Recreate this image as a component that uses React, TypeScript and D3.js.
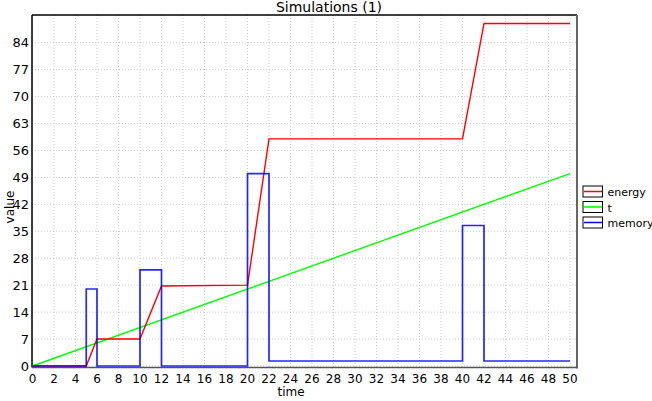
import * as d3 from 'd3';

// series data
const timeSteps = [0, 5, 6, 10, 12, 20, 22, 40, 42, 50];
const energyValues = [0, 0, 7, 7, 20.8, 21, 59, 59, 89, 89];
const tTimes = [0, 50];
const tValues = [0, 50];
const memoryValues = [0, 20, 0, 25, 0, 50, 1.3, 36.5, 1.3, 1.3];

const xTicks = d3.range(0, 51, 2);
const yTicks = d3.range(0, 85, 7);
const legendLabels = ['energy', 't', 'memory'];
const legendColors = ['#ff0000', '#00ff00', '#0000ff'];

export default function App() {
  const width = 652;
  const height = 401;
  const plotLeft = 32;
  const plotRight = 577;
  const plotTop = 15;
  const plotBottom = 367.5;

  // Declare the scales.
  const x = d3.scaleLinear([0, 50], [32.5, 570]);
  const y = d3.scaleLinear([0, 84], [366, 42.7]);

  const line = d3.line<[number, number]>()
    .x(d => x(d[0]))
    .y(d => y(d[1]));
  const stepLine = d3.line<[number, number]>()
    .x(d => x(d[0]))
    .y(d => y(d[1]))
    .curve(d3.curveStepAfter);

  const energy = timeSteps.map((t, i) => [t, energyValues[i]] as [number, number]);
  const tSeries = tTimes.map((t, i) => [t, tValues[i]] as [number, number]);
  const memory = timeSteps.map((t, i) => [t, memoryValues[i]] as [number, number]);

  const font = 'Verdana, "DejaVu Sans", sans-serif';

  return (
    <svg width={width} height={height} style={{ position: 'absolute', left: 0, top: 0 }}
      fontFamily={font}>
      <rect width={width} height={height} fill="#fff" />
      <text x={329} y={12} fontSize={14} textAnchor="middle" fill="#000">Simulations (1)</text>

      {/* grid */}
      {xTicks.map(t => (
        <line key={'gx' + t} x1={x(t)} x2={x(t)} y1={plotTop} y2={plotBottom}
          stroke="#c8c8c8" strokeDasharray="1,2" />
      ))}
      {yTicks.map(v => (
        <line key={'gy' + v} x1={plotLeft} x2={plotRight} y1={y(v)} y2={y(v)}
          stroke="#c8c8c8" strokeDasharray="1,2" />
      ))}

      {/* frame */}
      <line x1={plotLeft} x2={plotRight} y1={plotTop} y2={plotTop} stroke="#000" strokeWidth={1.5} />
      <line x1={plotLeft} x2={plotLeft} y1={plotTop} y2={plotBottom} stroke="#000" strokeWidth={1.5} />
      <line x1={plotRight} x2={plotRight} y1={plotTop} y2={plotBottom + 1} stroke="#666" strokeWidth={2} />
      <line x1={plotLeft} x2={plotRight} y1={plotBottom} y2={plotBottom} stroke="#555" strokeWidth={1.5} />

      {/* series */}
      <path d={line(tSeries) ?? ''} fill="none" stroke="#00ff00" strokeWidth={1.4} />
      <path d={line(energy) ?? ''} fill="none" stroke="#ff0000" strokeWidth={1.4} />
      <path d={stepLine(memory) ?? ''} fill="none" stroke="#0000ff" strokeWidth={1.7} strokeOpacity={0.85} />

      {/* axes labels */}
      {xTicks.map(t => (
        <text key={'tx' + t} x={x(t)} y={383} fontSize={12} textAnchor="middle" fill="#000">{t}</text>
      ))}
      {yTicks.map(v => (
        <text key={'ty' + v} x={29} y={y(v) + 4.5} fontSize={13} textAnchor="end" fill="#000">{v}</text>
      ))}
      <text x={291} y={396} fontSize={12} textAnchor="middle" fill="#000">time</text>
      <text transform="translate(14,207) rotate(-90)" fontSize={12} textAnchor="middle" fill="#000">value</text>

      {/* legend */}
      {legendLabels.map((label, i) => (
        <g key={label} transform={`translate(583,${186 + i * 15.5})`}>
          <rect x={0} y={0} width={19.5} height={11} fill="#fff" stroke="#000" strokeWidth={1} />
          <line x1={1} x2={19} y1={5.5} y2={5.5} stroke={legendColors[i]} strokeWidth={1.5} />
          <text x={24.5} y={10} fontSize={11} fill="#000">{label}</text>
        </g>
      ))}
    </svg>
  );
}
